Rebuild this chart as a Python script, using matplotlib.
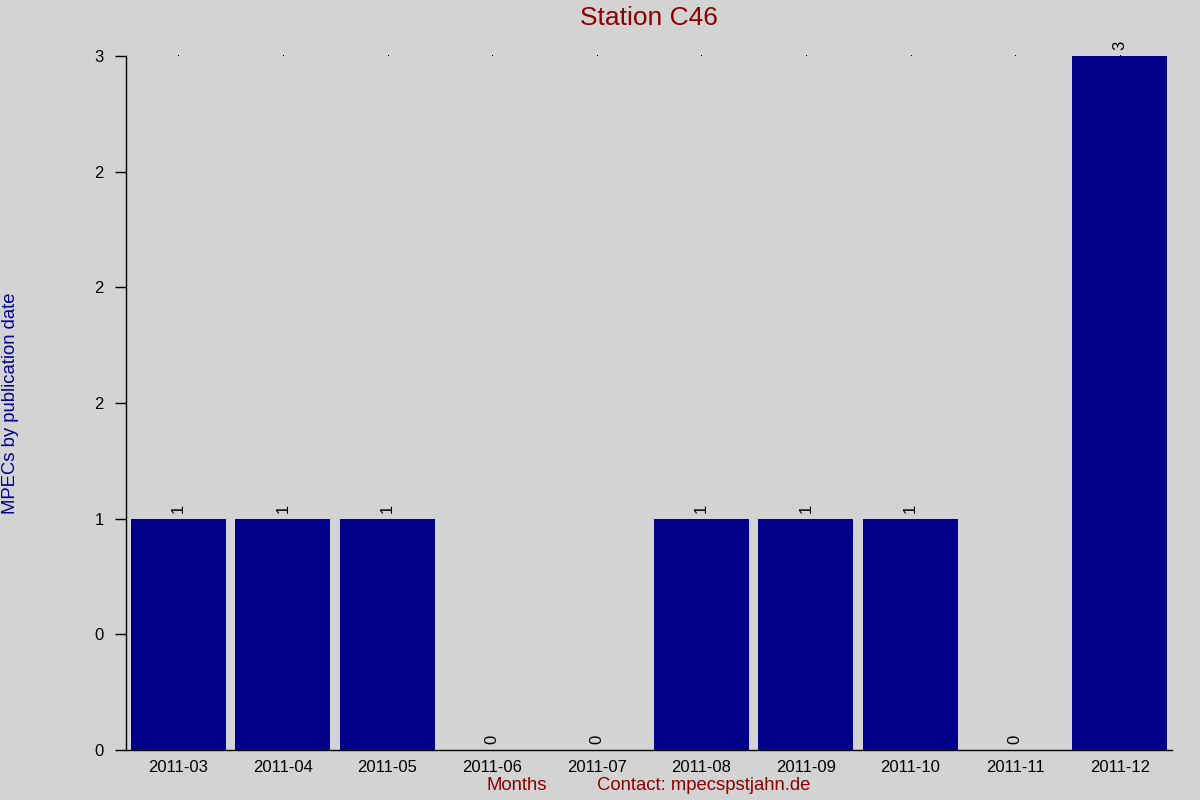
import matplotlib
matplotlib.use("Agg")
import matplotlib.pyplot as plt
from matplotlib.ticker import FormatStrFormatter, MultipleLocator

months = ["2011-03", "2011-04", "2011-05", "2011-06", "2011-07",
          "2011-08", "2011-09", "2011-10", "2011-11", "2011-12"]
counts = [1, 1, 1, 0, 0, 1, 1, 1, 0, 3]

title = "Station C46"
ylabel = "MPECs by publication date"
xlabel = "Months"
contact = "Contact: mpecspstjahn.de"

plt.rcParams['font.family'] = ['Liberation Sans', 'DejaVu Sans']
bg = "#d3d3d3"
bar_color = "#00008b"
red = "#8b0000"

fig = plt.figure(figsize=(12, 8), dpi=100, facecolor=bg)
ax = fig.add_axes([126/1200, 1-750/800, (1172-126)/1200, (750-56)/800])
ax.set_facecolor(bg)

x = list(range(len(months)))
ax.bar(x, counts, width=0.91, color=bar_color, zorder=2)
ax.set_xlim(-0.5, len(months) - 0.5)
ymax = max(counts)
ax.set_ylim(0, ymax)

# tiny dots at top of plot at each category
ax.plot(x, [ymax] * len(x), linestyle="none", marker=",", color="black", zorder=1, clip_on=False)

for xi, v in zip(x, counts):
    ax.annotate(str(v), (xi, v), xytext=(0, 4), textcoords="offset points",
                rotation=90, ha="center", va="bottom", fontsize=12, color="black")

ax.set_xticks(x)
ax.set_xticklabels(months)
ax.yaxis.set_major_locator(MultipleLocator(0.5))
ax.yaxis.set_major_formatter(FormatStrFormatter('%.0f'))
ax.tick_params(axis="x", length=0, pad=7, labelsize=12)
ax.tick_params(axis="y", length=8, width=1, pad=8, labelsize=12, direction="out")

for s in ["top", "right"]:
    ax.spines[s].set_visible(False)
for s in ["left", "bottom"]:
    ax.spines[s].set_linewidth(1)
    ax.spines[s].set_color("black")

fig.text(649/1200, 1-18/800, title, ha="center", va="center", fontsize=19, color=red)
fig.text(11/1200, 1-403/800, ylabel, ha="center", va="center", rotation=90, fontsize=13.3, color=bar_color)
fig.text(517/1200, 1-786/800, xlabel, ha="center", va="center", fontsize=13.3, color=red)
fig.text(704/1200, 1-786/800, contact, ha="center", va="center", fontsize=13.3, color=red)

fig.savefig("out.png", dpi=100, facecolor=bg)
